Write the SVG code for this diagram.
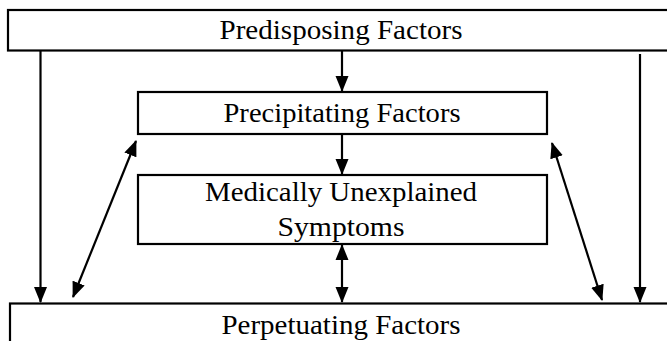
<svg xmlns="http://www.w3.org/2000/svg" width="667" height="341" viewBox="0 0 667 341">
<style>
.box{fill:#fff;stroke:#000;stroke-width:2.2}
.t{font-family:"Liberation Serif","Times New Roman",serif;font-size:27.5px;fill:#000;text-anchor:middle}
.c{stroke:#000;stroke-width:2.2;fill:none}
</style>
<defs>
<marker id="ah" markerUnits="userSpaceOnUse" markerWidth="16" markerHeight="14" refX="15" refY="7" orient="auto-start-reverse">
<path d="M0,0.5 L16,7 L0,13.5 z" fill="#000"/>
</marker>
</defs>
<rect width="667" height="341" fill="#fff"/>
<g id="predisposing">
<rect class="box" x="8" y="10" width="670" height="40.5"/>
<text class="t" x="341" y="38.5" textLength="243" lengthAdjust="spacingAndGlyphs">Predisposing Factors</text>
</g>
<g id="precipitating">
<rect class="box" x="138" y="92" width="409" height="42"/>
<text class="t" x="342" y="122" textLength="237" lengthAdjust="spacingAndGlyphs">Precipitating Factors</text>
</g>
<g id="mus">
<rect class="box" x="138" y="175" width="409" height="69"/>
<text class="t" x="341" y="201" textLength="272" lengthAdjust="spacingAndGlyphs">Medically Unexplained</text>
<text class="t" x="341" y="236" textLength="127" lengthAdjust="spacingAndGlyphs">Symptoms</text>
</g>
<g id="perpetuating">
<rect class="box" x="10" y="303.5" width="670" height="60"/>
<text class="t" x="341" y="333.5" textLength="239" lengthAdjust="spacingAndGlyphs">Perpetuating Factors</text>
</g>
<g id="connectors">
<line class="c" x1="40.5" y1="51" x2="40.5" y2="302" marker-end="url(#ah)"/>
<line class="c" x1="640" y1="54" x2="640" y2="302" marker-end="url(#ah)"/>
<line class="c" x1="342" y1="51" x2="342" y2="91" marker-end="url(#ah)"/>
<line class="c" x1="342" y1="135" x2="342" y2="174" marker-end="url(#ah)"/>
<line class="c" x1="342" y1="245" x2="342" y2="302" marker-start="url(#ah)" marker-end="url(#ah)"/>
<line class="c" x1="136" y1="141" x2="73" y2="297" marker-start="url(#ah)" marker-end="url(#ah)"/>
<line class="c" x1="552" y1="143" x2="602" y2="300" marker-start="url(#ah)" marker-end="url(#ah)"/>
</g>
</svg>
